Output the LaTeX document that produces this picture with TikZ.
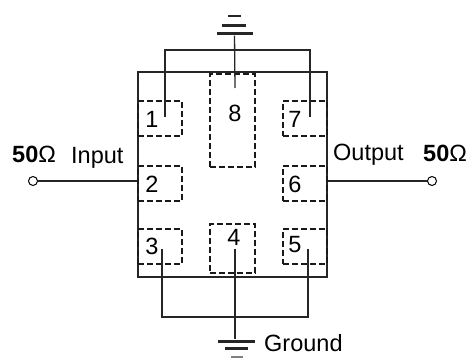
\documentclass[tikz,border=0pt]{standalone}
\usepackage{fontspec}
\setmainfont{Liberation Sans}

\begin{document}
\begin{tikzpicture}[x=1pt,y=-1pt]
        \tikzset{pad style/.style={draw, dashed, dash pattern=on 6pt off 3pt, line width=1.2pt, color=black!90, rectangle, inner sep=0pt}}
        \tikzset{wire style/.style={line width=1.3pt, color=black!85}}
        \tikzset{bar style/.style={rectangle, fill=black!85, inner sep=0pt}}
        \tikzset{label style/.style={inner sep=0pt, font=\fontsize{23.5}{26}\selectfont}}
        \tikzset{term style/.style={draw, circle, line width=1pt, fill=white, minimum size=9pt, inner sep=0pt}}

        \useasboundingbox (0,0) rectangle (470,358);

        \node[draw, line width=1.2pt, color=black!85, rectangle, inner sep=0pt, minimum width=189pt, minimum height=205pt] (body) at (232.5,174.5) {};

        % pads
        \node[pad style, minimum width=44pt, minimum height=35pt] (pad1) at (160,118.5) {};
        \node[pad style, minimum width=44pt, minimum height=35pt] (pad2) at (160,183.5) {};
        \node[pad style, minimum width=44pt, minimum height=35pt] (pad3) at (160,246.5) {};
        \node[pad style, minimum width=45pt, minimum height=49pt] (pad4) at (232.5,248.5) {};
        \node[pad style, minimum width=44pt, minimum height=35pt] (pad5) at (305,246.5) {};
        \node[pad style, minimum width=44pt, minimum height=35pt] (pad6) at (305,183.5) {};
        \node[pad style, minimum width=44pt, minimum height=35pt] (pad7) at (305,118.5) {};
        \node[pad style, minimum width=45pt, minimum height=93pt] (pad8) at (232.5,120.5) {};

        % pad numbers
        \node[label style] (num1) at (152,119) {1};
        \node[label style] (num2) at (152,184) {2};
        \node[label style] (num3) at (152,246) {3};
        \node[label style] (num4) at (234,237) {4};
        \node[label style] (num5) at (295,245) {5};
        \node[label style] (num6) at (295,184) {6};
        \node[label style] (num7) at (295,119) {7};
        \node[label style] (num8) at (235,113) {8};

        % wire ends inside the pads
        \coordinate (end1) at (165,117);
        \coordinate (end7) at (310,117);
        \coordinate (end8) at (235,88);
        \coordinate (end3) at (162,249);
        \coordinate (end4) at (235,249);
        \coordinate (end5) at (308,249);
        \coordinate (bustop) at (235,50);
        \coordinate (busbottom) at (235,317);

        % ground at the top
        \node[bar style, minimum width=36pt, minimum height=3pt] (gndtopa) at (234.5,34) {};
        \node[bar style, minimum width=24pt, minimum height=2.4pt] (gndtopb) at (234,25.5) {};
        \node[bar style, minimum width=13pt, minimum height=2.4pt] (gndtopc) at (234.5,16) {};

        % ground at the bottom
        \node[bar style, minimum width=37pt, minimum height=3pt] (gndbota) at (236.5,341) {};
        \node[bar style, minimum width=23pt, minimum height=3pt] (gndbotb) at (236.5,348.5) {};
        \node[bar style, fill=black!50, minimum width=12pt, minimum height=2pt] (gndbotc) at (237,357) {};

        \draw[wire style] (end1) |- (bustop) -| (end7);
        \draw[wire style] (gndtopa) -- (end8);
        \draw[wire style] (end3) |- (busbottom) -| (end5);
        \draw[wire style] (end4) -- (gndbota.north -| end4);

        % input and output
        \node[term style] (input) at (33,181) {};
        \node[term style] (output) at (432,181) {};
        \draw[wire style] (input) -- (pad2.west |- input);
        \draw[wire style] (pad6.east |- output) -- (output);

        \node[label style, anchor=base west] (leftohm) at (12,162) {\textbf{50}Ω};
        \node[label style, anchor=base west] (inputlabel) at (71,163) {Input};
        \node[label style, anchor=base west] (outputlabel) at (333,160) {Output};
        \node[label style, anchor=base west] (rightohm) at (423,161) {\textbf{50}Ω};
        \node[label style, anchor=base west] (groundlabel) at (264,351) {Ground};
    \end{tikzpicture}
\end{document}
